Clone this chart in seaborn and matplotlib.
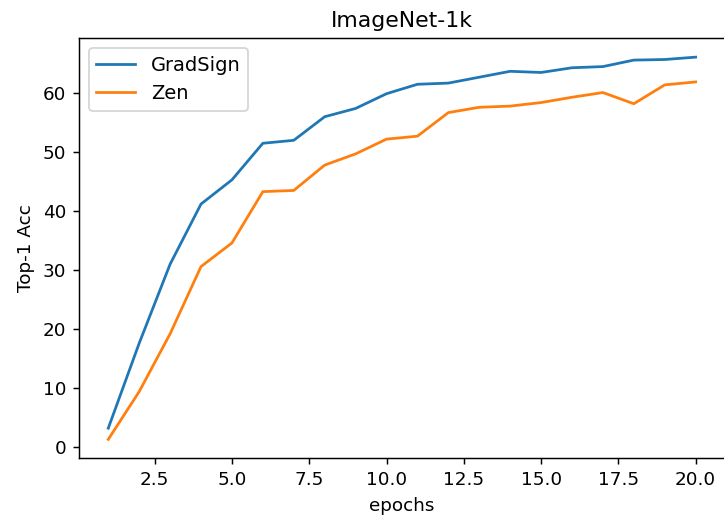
import numpy as np
import pandas as pd
import seaborn as sns
import matplotlib.pyplot as plt

epochs = list(range(1, 21))
gradsign = [3.2, 17.6, 31.0, 41.2, 45.3, 51.5, 52.0, 56.0, 57.4, 59.9,
            61.5, 61.7, 62.7, 63.7, 63.5, 64.3, 64.5, 65.6, 65.7, 66.1]
zen = [1.3, 9.4, 19.2, 30.6, 34.6, 43.3, 43.5, 47.8, 49.7, 52.2,
       52.7, 56.7, 57.6, 57.8, 58.4, 59.3, 60.1, 58.2, 61.4, 61.9]

df = pd.DataFrame({
    "epochs": epochs * 2,
    "acc": gradsign + zen,
    "method": ["GradSign"] * len(epochs) + ["Zen"] * len(epochs),
})

dpi = 132
fig, ax = plt.subplots(figsize=(724 / dpi, 521 / dpi), dpi=dpi)
sns.lineplot(data=df, x="epochs", y="acc", hue="method", ax=ax)
ax.legend(title=None, loc="upper left", fontsize=10.6)
ax.set_xlabel("epochs")
ax.set_ylabel("Top-1 Acc")
ax.set_title("ImageNet-1k")
plt.subplots_adjust(left=0.109, right=1.0014, top=0.927, bottom=0.12)
plt.savefig("out.png", dpi=dpi)
